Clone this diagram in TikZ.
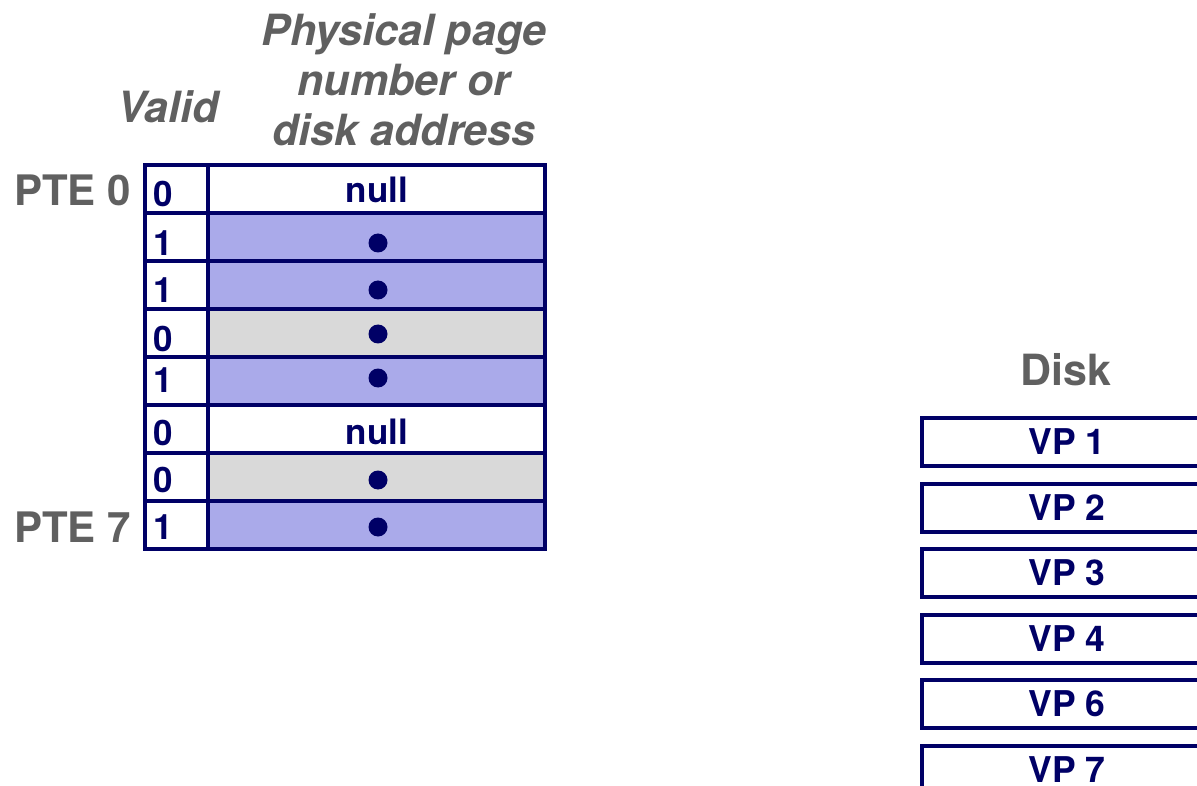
\documentclass[tikz,border=0pt]{standalone}
\usepackage{fontspec}
\setmainfont{TeX Gyre Heros}
\definecolor{navy}{HTML}{000066}
\definecolor{pblue}{HTML}{AAAAEA}
\definecolor{pgray}{HTML}{D9D9D9}
\definecolor{tgray}{HTML}{606060}
\tikzset{
  cell/.style={draw=navy, line width=3.6pt, anchor=north west, minimum height=48pt, inner sep=0pt, outer sep=0pt},
  vcell/.style={cell, minimum width=63pt, fill=white},
  pcell/.style={cell, minimum width=337pt},
  bit/.style={text=navy, font=\fontsize{35}{38}\selectfont\bfseries, anchor=west, inner sep=0pt},
  nulltxt/.style={text=navy, font=\fontsize{35}{38}\selectfont\bfseries, inner sep=0pt},
  ptr/.style={circle, fill=navy, minimum size=19pt, inner sep=0pt},
  ptelbl/.style={text=tgray, font=\fontsize{42}{46}\selectfont\bfseries, anchor=east, inner sep=0pt},
  hdr/.style={text=tgray, font=\fontsize{43}{50}\selectfont\bfseries\itshape, align=center, inner sep=0pt},
  diskbox/.style={draw=navy, line width=4pt, anchor=north west, minimum width=290pt, minimum height=48pt, inner sep=0pt, text=navy, font=\fontsize{35.5}{38}\selectfont\bfseries},
}
\begin{document}
\begin{tikzpicture}[x=1pt,y=-1pt]
\clip (0,0) rectangle (1197,786);
\fill[white] (0,0) rectangle (1197,786);
% headers
\node[hdr] (hvalid) at (168,107) {Valid};
\node[hdr] (hppn) at (404,80) {Physical page\\number or\\disk address};
% table rows
\foreach \i/\col in {0/white,1/pblue,2/pblue,3/pgray,4/pblue,5/white,6/pgray,7/pblue}{
  \node[vcell] (v\i) at (145,{165+48*\i}) {};
  \node[pcell, fill=\col] (p\i) at (208,{165+48*\i}) {};
}
% valid bits
\node[bit] (b0) at (153,194) {0};
\node[bit] (b1) at (153,243) {1};
\node[bit] (b2) at (153,290) {1};
\node[bit] (b3) at (153,339) {0};
\node[bit] (b4) at (153,380) {1};
\node[bit] (b5) at (153,433) {0};
\node[bit] (b6) at (153,480) {0};
\node[bit] (b7) at (153,527) {1};
% contents
\node[nulltxt] (n0) at (377,190) {null};
\node[ptr] (d1) at (378,243) {};
\node[ptr] (d2) at (378,290) {};
\node[ptr] (d3) at (378,334) {};
\node[ptr] (d4) at (378,378) {};
\node[nulltxt] (n5) at (377,432) {null};
\node[ptr] (d6) at (378,480) {};
\node[ptr] (d7) at (378,527) {};
% PTE labels
\node[ptelbl] (pte0) at (131,190) {PTE 0};
\node[ptelbl] (pte7) at (131,527) {PTE 7};
% disk
\node[text=tgray, font=\fontsize{43}{46}\selectfont\bfseries, inner sep=0pt] (disk) at (1066,370) {Disk};
\node[diskbox] (vp1) at (920,416) {VP 1};
\node[diskbox] (vp2) at (920,481.5) {VP 2};
\node[diskbox] (vp3) at (920,547) {VP 3};
\node[diskbox] (vp4) at (920,612.5) {VP 4};
\node[diskbox] (vp6) at (920,678) {VP 6};
\node[diskbox] (vp7) at (920,743.5) {VP 7};
\end{tikzpicture}
\end{document}
